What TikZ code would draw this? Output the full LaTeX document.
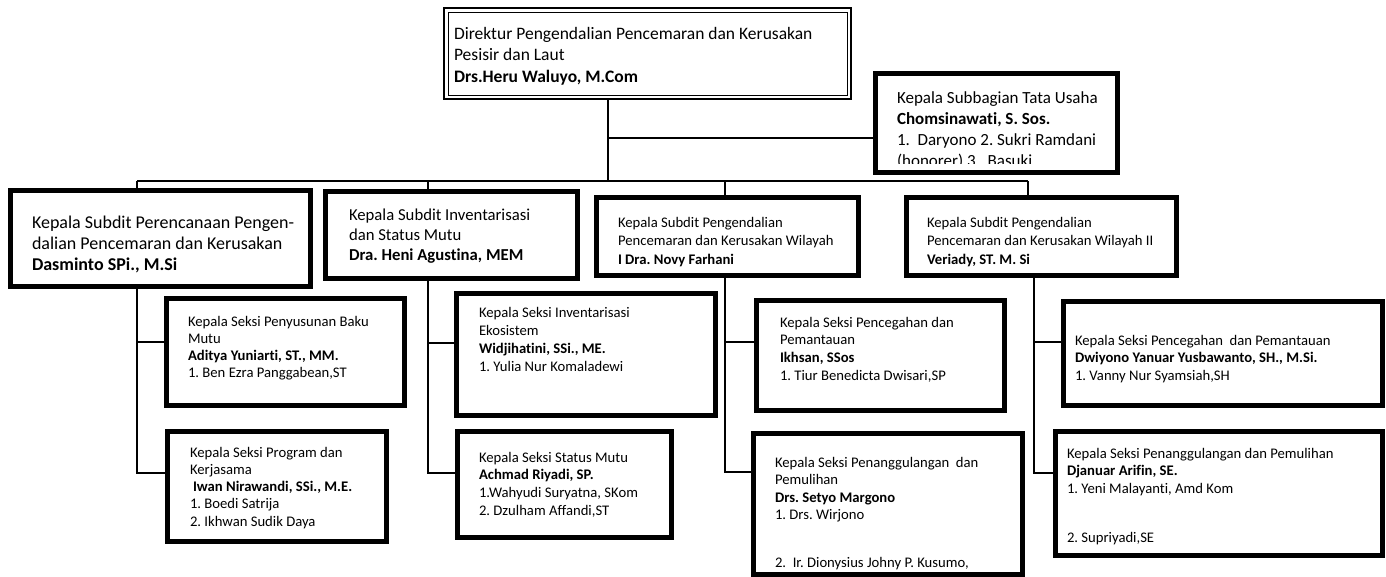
\documentclass[tikz,border=0pt]{standalone}
\usepackage{fontspec}
\setmainfont{Carlito}[Ligatures={NoCommon,NoContextual}]
\frenchspacing
\newcommand\Lines[1]{\vtop{\halign{##\hfil\cr#1\crcr}}}
\newcommand\obox[6]{\node[#1, minimum width={(#5-#3)*1pt}, minimum height={(#6-#4)*1pt}] (#2) at (#3,#4) {};}
\tikzset{
  conn/.style={draw=black, line width=1.6pt},
  thickbox/.style={draw=black, line width=5pt, inner sep=0pt, outer sep=0pt, anchor=north west, rectangle},
  outerbox/.style={draw=black, line width=2.4pt, inner sep=0pt, outer sep=0pt, anchor=north west, rectangle},
  innerline/.style={draw=black, line width=1pt},
  txt/.style={inner sep=0pt, outer sep=0pt, anchor=base west},
}
\begin{document}
\begin{tikzpicture}[x=1pt,y=-1pt]
\useasboundingbox[fill=white] (0,0) rectangle (1386,576);

% ---------- coordinates for connectors ----------
\coordinate (j0) at (608,181);
\coordinate (jtu) at (608,138);
\coordinate (busL) at (137,181);
\coordinate (busR) at (1028,181);
\coordinate (b2) at (428,181);
\coordinate (b3) at (725,181);
\coordinate (c1a) at (137,342);
\coordinate (c1b) at (137,473);
\coordinate (c2a) at (428,343);
\coordinate (c2b) at (428,473);
\coordinate (c3a) at (725,342);
\coordinate (c3b) at (725,472);
\coordinate (c4a) at (1034,342);
\coordinate (c4b) at (1034,473);

% ---------- boxes ----------
\obox{outerbox}{top}{444}{8}{851}{99}
\draw[innerline] ([shift={(4,4)}]top.north west) rectangle ([shift={(-4,-4)}]top.south east);
\obox{thickbox}{tu}{875}{73}{1117}{172}
\obox{thickbox}{d1}{10}{190}{310}{286}
\obox{thickbox}{d2}{325}{191}{577}{278}
\obox{thickbox}{d3}{596}{197}{858}{275}
\obox{thickbox}{d4}{906}{197}{1176}{275}
\obox{thickbox}{s1a}{166}{298}{404}{405}
\obox{thickbox}{s1b}{167}{431}{386}{541}
\obox{thickbox}{s2a}{456}{293}{715}{415}
\obox{thickbox}{s2b}{457}{431}{671}{537}
\obox{thickbox}{s3a}{756}{300}{1004}{410}
\obox{thickbox}{s3b}{753}{433}{1022}{574}
\obox{thickbox}{s4a}{1063}{301}{1382}{405}
\obox{thickbox}{s4b}{1055}{431}{1382}{555}

% ---------- connectors ----------
\draw[conn] (top.south -| j0) -- (j0);
\draw[conn] (jtu) -- (jtu -| tu.west);
\draw[conn] (busL) -- (busR);
\draw[conn] (busL) -- (busL |- d1.north);
\draw[conn] (b2) -- (b2 |- d2.north);
\draw[conn] (b3) -- (b3 |- d3.north);
\draw[conn] (busR) -- (busR |- d4.north);
\draw[conn] (d1.south -| c1b) -- (c1b) -- (c1b -| s1b.west);
\draw[conn] (c1a) -- (c1a -| s1a.west);
\draw[conn] (d2.south -| c2b) -- (c2b) -- (c2b -| s2b.west);
\draw[conn] (c2a) -- (c2a -| s2a.west);
\draw[conn] (d3.south -| c3b) -- (c3b) -- (c3b -| s3b.west);
\draw[conn] (c3a) -- (c3a -| s3a.west);
\draw[conn] (d4.south -| c4b) -- (c4b) -- (c4b -| s4b.west);
\draw[conn] (c4a) -- (c4a -| s4a.west);

% ---------- texts ----------
\node[txt, font=\fontsize{17.5}{21.5}\selectfont] (ttop) at (454,39) {\Lines{Direktur Pengendalian Pencemaran dan Kerusakan\cr Pesisir dan Laut\cr \textbf{Drs.Heru Waluyo, M.Com}}};

\begin{scope}
\clip (875,73) rectangle (1117,163);
\node[txt, font=\fontsize{17}{21.3}\selectfont] (ttu) at (897,103) {\Lines{Kepala Subbagian Tata Usaha\cr \textbf{Chomsinawati, S. Sos.}\cr 1.\ \ Daryono 2. Sukri Ramdani\cr (honorer) 3.\ \ Basuki}};
\end{scope}
\draw[draw=black, line width=5pt] (tu.north west) rectangle (tu.south east);

\node[txt, font=\fontsize{18}{21}\selectfont] (td1) at (32,228) {\Lines{Kepala Subdit Perencanaan Pengen-\cr dalian Pencemaran dan Kerusakan\cr \textbf{Dasminto SPi., M.Si}}};
\node[txt, font=\fontsize{16.7}{20}\selectfont] (td2) at (349,220) {\Lines{Kepala Subdit Inventarisasi\cr dan Status Mutu\cr \textbf{Dra. Heni Agustina, MEM}}};
\node[txt, font=\fontsize{14.67}{18.5}\selectfont] (td3) at (618,227) {\Lines{Kepala Subdit Pengendalian\cr Pencemaran dan Kerusakan Wilayah\cr \textbf{I Dra. Novy Farhani}}};
\node[txt, font=\fontsize{14.67}{18.5}\selectfont] (td4) at (927,227) {\Lines{Kepala Subdit Pengendalian\cr Pencemaran dan Kerusakan Wilayah II\cr \textbf{Veriady, ST. M. Si}}};

\node[txt, font=\fontsize{14.67}{17.2}\selectfont] (ts1a) at (188,326) {\Lines{Kepala Seksi Penyusunan Baku\cr Mutu\cr \textbf{Aditya Yuniarti, ST., MM.}\cr 1. Ben Ezra Panggabean,ST}};
\node[txt, font=\fontsize{14.67}{17.3}\selectfont] (ts1b) at (190,457) {\Lines{Kepala Seksi Program dan\cr Kerjasama\cr \hspace{3pt}\textbf{Iwan Nirawandi, SSi., M.E.}\cr 1. Boedi Satrija\cr 2. Ikhwan Sudik Daya}};
\node[txt, font=\fontsize{14.67}{18}\selectfont] (ts2a) at (479,317) {\Lines{Kepala Seksi Inventarisasi\cr Ekosistem\cr \textbf{Widjihatini, SSi., ME.}\cr 1. Yulia Nur Komaladewi}};
\node[txt, font=\fontsize{14.67}{17.7}\selectfont] (ts2b) at (479,462) {\Lines{Kepala Seksi Status Mutu\cr \textbf{Achmad Riyadi, SP.}\cr 1.Wahyudi Suryatna, SKom\cr 2. Dzulham Affandi,ST}};
\node[txt, font=\fontsize{14.67}{17.8}\selectfont] (ts3a) at (780,327) {\Lines{Kepala Seksi Pencegahan dan\cr Pemantauan\cr \textbf{Ikhsan, SSos}\cr 1. Tiur Benedicta Dwisari,SP}};
\node[txt, font=\fontsize{14.67}{17.5}\selectfont] (ts3b) at (775,467) {\Lines{Kepala Seksi Penanggulangan\ \ dan\cr Pemulihan\cr \textbf{Drs. Setyo Margono}\cr 1. Drs. Wirjono\cr\noalign{\vskip 30pt} 2.\ \ Ir. Dionysius Johny P. Kusumo,}};
\node[txt, font=\fontsize{14.67}{17.5}\selectfont] (ts4a) at (1075,345) {\Lines{Kepala Seksi Pencegahan\ \ dan Pemantauan\cr \textbf{Dwiyono Yanuar Yusbawanto, SH., M.Si.}\cr 1. Vanny Nur Syamsiah,SH}};
\node[txt, font=\fontsize{14.67}{17.5}\selectfont] (ts4b) at (1067,458) {\Lines{Kepala Seksi Penanggulangan dan Pemulihan\cr \textbf{Djanuar Arifin, SE.}\cr 1. Yeni Malayanti, Amd Kom\cr\noalign{\vskip 31.5pt} 2. Supriyadi,SE}};
\end{tikzpicture}
\end{document}
